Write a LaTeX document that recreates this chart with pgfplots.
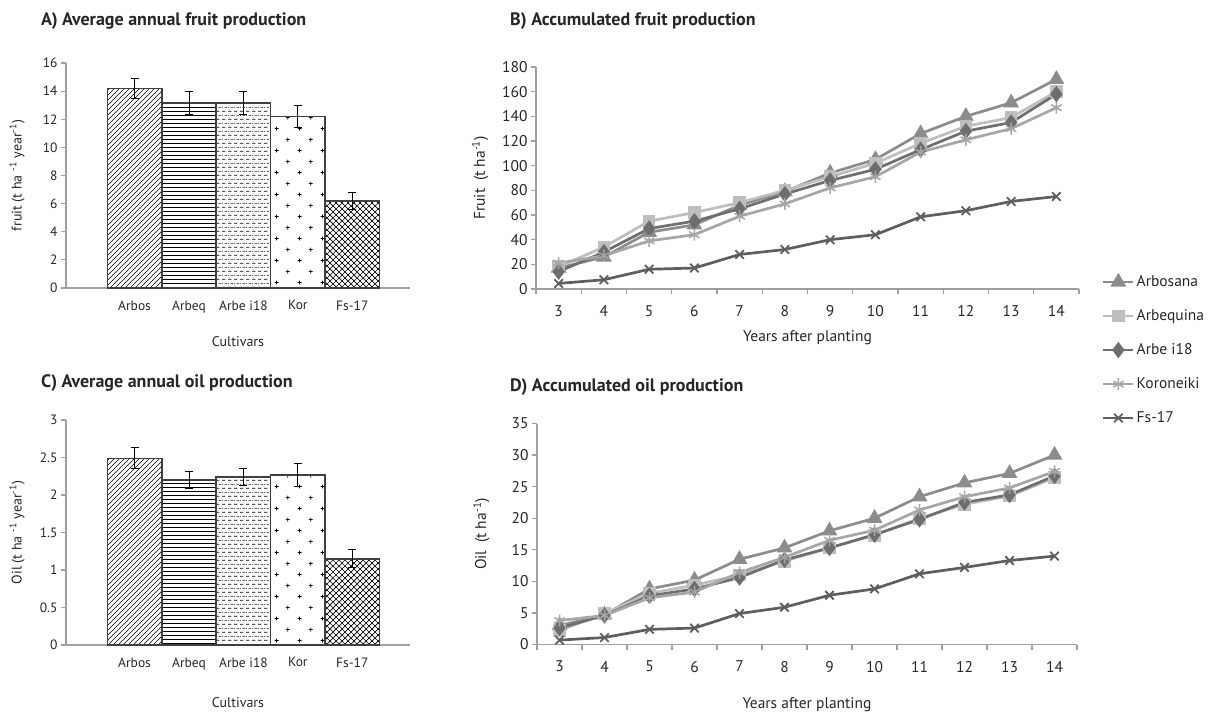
\documentclass[border=0pt]{standalone}
\usepackage{fontspec}
\setmainfont{PT Sans}
\usepackage{pgfplots}
\usepackage{pgfplotstable}
\pgfplotsset{compat=1.18}
\usetikzlibrary{patterns}

\definecolor{axgray}{HTML}{A0A0A0}
\definecolor{txt}{HTML}{262626}
\definecolor{bedge}{HTML}{404040}
\definecolor{cArbosana}{HTML}{8C8C8C}
\definecolor{cArbequina}{HTML}{BEBEBE}
\definecolor{cArbe}{HTML}{6E6E6E}
\definecolor{cKor}{HTML}{A6A6A6}
\definecolor{cFs}{HTML}{5E5E5E}

% patterns
\pgfdeclarepatternformonly{hne}{\pgfqpoint{-1pt}{-1pt}}{\pgfqpoint{6pt}{6pt}}{\pgfqpoint{5pt}{5pt}}{%
  \pgfsetlinewidth{0.7pt}\pgfpathmoveto{\pgfqpoint{0pt}{0pt}}\pgfpathlineto{\pgfqpoint{5.1pt}{5.1pt}}\pgfusepath{stroke}}
\pgfdeclarepatternformonly{hhor}{\pgfqpoint{-1pt}{0pt}}{\pgfqpoint{5pt}{4pt}}{\pgfqpoint{4pt}{4pt}}{%
  \pgfsetlinewidth{0.8pt}\pgfpathmoveto{\pgfqpoint{-1pt}{2pt}}\pgfpathlineto{\pgfqpoint{5pt}{2pt}}\pgfusepath{stroke}}
\pgfdeclarepatternformonly{hdash}{\pgfqpoint{0pt}{0pt}}{\pgfqpoint{6pt}{8pt}}{\pgfqpoint{6pt}{8pt}}{%
  \pgfsetlinewidth{0.8pt}%
  \pgfpathmoveto{\pgfqpoint{0pt}{2pt}}\pgfpathlineto{\pgfqpoint{4pt}{2pt}}%
  \pgfpathmoveto{\pgfqpoint{3pt}{6pt}}\pgfpathlineto{\pgfqpoint{6pt}{6pt}}%
  \pgfpathmoveto{\pgfqpoint{0pt}{6pt}}\pgfpathlineto{\pgfqpoint{1pt}{6pt}}%
  \pgfusepath{stroke}}
\pgfdeclarepatternformonly{hplus}{\pgfqpoint{0pt}{0pt}}{\pgfqpoint{22.6pt}{22.4pt}}{\pgfqpoint{22.6pt}{22.4pt}}{%
  \pgfsetlinewidth{0.8pt}%
  \pgfpathmoveto{\pgfqpoint{3.65pt}{5.6pt}}\pgfpathlineto{\pgfqpoint{7.65pt}{5.6pt}}%
  \pgfpathmoveto{\pgfqpoint{5.65pt}{3.6pt}}\pgfpathlineto{\pgfqpoint{5.65pt}{7.6pt}}%
  \pgfpathmoveto{\pgfqpoint{14.95pt}{16.8pt}}\pgfpathlineto{\pgfqpoint{18.95pt}{16.8pt}}%
  \pgfpathmoveto{\pgfqpoint{16.95pt}{14.8pt}}\pgfpathlineto{\pgfqpoint{16.95pt}{18.8pt}}%
  \pgfusepath{stroke}}
\pgfdeclarepatternformonly{hcross}{\pgfqpoint{-1pt}{-1pt}}{\pgfqpoint{7pt}{7pt}}{\pgfqpoint{6pt}{6pt}}{%
  \pgfsetlinewidth{0.7pt}%
  \pgfpathmoveto{\pgfqpoint{0pt}{0pt}}\pgfpathlineto{\pgfqpoint{6.1pt}{6.1pt}}%
  \pgfpathmoveto{\pgfqpoint{0pt}{6pt}}\pgfpathlineto{\pgfqpoint{6.1pt}{-0.1pt}}%
  \pgfusepath{stroke}}

\pgfplotstableread{
x  arbosana arbequina arbe kor fs
3  17  18  14  21  4.5
4  26  34  30  27  7.5
5  46  55  49  39  16
6  52  62  55  44  17
7  68  70  65  59  28
8  79  80  77  69  32
9  94  91  88  82  40
10 105 102 97  91  44
11 126 118 113 111 58.5
12 140 132 128 121 63.5
13 151 139 135 130 71
14 170 160 158 147 75
}\fruit

\pgfplotstableread{
x  arbosana arbequina arbe kor fs
3  3.0  2.2  2.6  3.8  0.7
4  4.7  4.9  4.6  4.6  1.1
5  8.8  8.1  7.7  7.4  2.4
6  10.2 9.4  8.8  8.3  2.6
7  13.5 11.0 10.6 11.4 4.9
8  15.3 13.2 13.4 13.8 5.9
9  18.0 15.3 15.3 16.5 7.8
10 20.0 17.3 17.4 18.1 8.8
11 23.4 20.0 19.8 21.3 11.2
12 25.6 22.2 22.5 23.4 12.2
13 27.1 23.5 23.7 24.8 13.3
14 30.0 26.4 26.7 27.4 14.0
}\oil

\pgfplotsset{
  baseax/.style={scale only axis, anchor=south west, axis lines*=left,
    axis line style={axgray, line width=1.5pt},
    tick style={axgray, line width=1.2pt}, tick align=outside,
    major tick length=5pt, minor tick length=5pt,
    /pgf/number format/assume math mode=true,
    tick label style={text=txt}, every axis label/.append style={text=txt},
    clip=false},
  barax/.style={baseax, width=344pt, height=225pt, xmin=-1.26, xmax=5.06,
    xtick={0,...,4}, xticklabels={Arbos,Arbeq,Arbe i18,Kor,Fs-17},
    x tick style={draw=none},
    tick label style={font=\fontsize{13.5}{16}\selectfont},
    xticklabel style={yshift=-4pt},
    label style={font=\fontsize{14}{17}\selectfont},
    xlabel={Cultivars},
    y label style={at={(axis description cs:-0.142,0.5)}, anchor=center}},
  mybar/.style={ybar, bar width=54.4pt, bar shift=0pt, draw=bedge, line width=1.5pt,
    fill=white, pattern color=black, pattern=#1,
    error bars/.cd, y dir=both, y explicit,
    error bar style={black, line width=1pt},
    error mark options={rotate=90, mark size=4pt, black, line width=1pt}},
  lineax/.style={baseax, xmin=2.5, xmax=14.5,
    xtick={2.5,3.5,...,14.5}, xticklabels={},
    extra x ticks={3,...,14}, extra x tick style={major tick length=0pt, xticklabel style={yshift=-13pt}},
    tick label style={font=\fontsize{15.5}{18}\selectfont},
    label style={font=\fontsize{15.5}{18}\selectfont},
    xlabel={Years after planting},
    y label style={at={(axis description cs:-0.103,0.5)}, anchor=center}},
  sArbosana/.style={color=cArbosana, line width=2.7pt, mark=triangle*, mark size=6.5pt, mark options={solid}},
  sArbequina/.style={color=cArbequina, line width=2.7pt, mark=square*, mark size=5pt, mark options={solid}},
  sArbe/.style={color=cArbe, line width=2.7pt, mark=diamond*, mark size=6pt, mark options={solid}},
  sKor/.style={color=cKor, line width=2.7pt, mark=asterisk, mark size=6pt, mark options={solid, line width=1.5pt}},
  sFs/.style={color=cFs, line width=2.7pt, mark=x, mark size=6pt, mark options={solid, line width=1.8pt}},
}

\begin{document}
\begin{tikzpicture}
\useasboundingbox (0pt,0pt) rectangle (1213pt,713pt);

% titles
\node[anchor=west, inner sep=0pt, font=\bfseries\fontsize{18}{21}\selectfont, text=txt] at (41pt,692pt) {A) Average annual fruit production};
\node[anchor=west, inner sep=0pt, font=\bfseries\fontsize{18}{21}\selectfont, text=txt] at (510pt,692pt) {B) Accumulated fruit production};
\node[anchor=west, inner sep=0pt, font=\bfseries\fontsize{18}{21}\selectfont, text=txt] at (41pt,330pt) {C) Average annual oil production};
\node[anchor=west, inner sep=0pt, font=\bfseries\fontsize{18}{21}\selectfont, text=txt] at (510pt,326pt) {D) Accumulated oil production};

% A
\begin{axis}[barax, at={(66pt,425pt)}, ymin=0, ymax=16, ytick={0,2,...,16},
  ylabel={fruit (t ha \textsuperscript{-1} year\textsuperscript{-1})},
  x label style={at={(axis description cs:0.5,-0.24)}, anchor=center}]
\addplot[mybar=hne] coordinates {(0,14.2) +- (0,0.7)};
\addplot[mybar=hhor] coordinates {(1,13.15) +- (0,0.8)};
\addplot[mybar=hdash] coordinates {(2,13.15) +- (0,0.8)};
\addplot[mybar=hplus] coordinates {(3,12.2) +- (0,0.8)};
\addplot[mybar=hcross] coordinates {(4,6.2) +- (0,0.6)};
\end{axis}

% C
\begin{axis}[barax, at={(66pt,68pt)}, ymin=0, ymax=3, ytick={0,0.5,...,3},
  ylabel={Oil (t ha \textsuperscript{-1} year\textsuperscript{-1})},
  x label style={at={(axis description cs:0.5,-0.258)}, anchor=center}]
\addplot[mybar=hne] coordinates {(0,2.49) +- (0,0.14)};
\addplot[mybar=hhor] coordinates {(1,2.20) +- (0,0.11)};
\addplot[mybar=hdash] coordinates {(2,2.24) +- (0,0.11)};
\addplot[mybar=hplus] coordinates {(3,2.27) +- (0,0.15)};
\addplot[mybar=hcross] coordinates {(4,1.15) +- (0,0.12)};
\end{axis}

% B
\begin{axis}[lineax, at={(536pt,424pt)}, width=543pt, height=222pt,
  ymin=0, ymax=180, ytick={0,20,...,180},
  ylabel={Fruit\enspace(t ha\textsuperscript{-1})},
  x label style={at={(axis description cs:0.5,-0.22)}, anchor=center},
  legend style={draw=none, fill=none, at={(axis description cs:1.042,-0.275)}, anchor=west,
    font=\fontsize{15.5}{18}\selectfont, text=txt, row sep=17.5pt, inner sep=0pt},
  legend cell align=left,
  legend image code/.code={\draw[mark repeat=2,mark phase=2] plot coordinates {(0pt,0pt)(15pt,0pt)(30pt,0pt)};}]
\addplot[sArbosana] table[x=x,y=arbosana] {\fruit};
\addlegendentry{Arbosana}
\addplot[sArbequina] table[x=x,y=arbequina] {\fruit};
\addlegendentry{Arbequina}
\addplot[sArbe] table[x=x,y=arbe] {\fruit};
\addlegendentry{Arbe i18}
\addplot[sKor] table[x=x,y=kor] {\fruit};
\addlegendentry{Koroneiki}
\addplot[sFs] table[x=x,y=fs] {\fruit};
\addlegendentry{Fs-17}
\end{axis}

% D
\begin{axis}[lineax, at={(537pt,68.5pt)}, width=540pt, height=221pt,
  ymin=0, ymax=35, ytick={0,5,...,35},
  ylabel={Oil\enspace(t ha\textsuperscript{-1})},
  x label style={at={(axis description cs:0.5,-0.27)}, anchor=center}]
\addplot[sArbosana] table[x=x,y=arbosana] {\oil};
\addplot[sArbequina] table[x=x,y=arbequina] {\oil};
\addplot[sArbe] table[x=x,y=arbe] {\oil};
\addplot[sKor] table[x=x,y=kor] {\oil};
\addplot[sFs] table[x=x,y=fs] {\oil};
\end{axis}
\end{tikzpicture}
\end{document}
